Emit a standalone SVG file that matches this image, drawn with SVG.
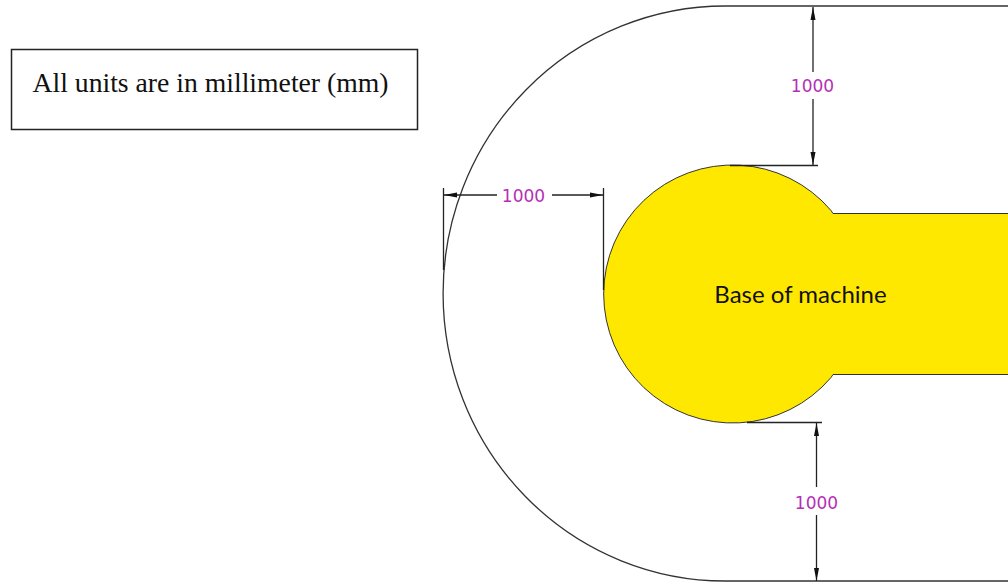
<svg xmlns="http://www.w3.org/2000/svg" width="1008" height="582" viewBox="0 0 1008 582">
<style>
.dim{stroke:#222;stroke-width:1.3;fill:none}
.lbl{font-family:"DejaVu Sans",sans-serif;font-size:17px;fill:#b52fb5;text-anchor:middle}
</style>
<defs>
<marker id="arr" viewBox="0 0 13 8" markerWidth="13" markerHeight="8" refX="13" refY="4" orient="auto" markerUnits="userSpaceOnUse"><path d="M0 1.500 L13 4 L0 6.500 Z" fill="#111"/></marker>
</defs>
<rect width="1008" height="582" fill="#fff"/>
<g id="note">
<rect x="11.500" y="49.500" width="406" height="80" fill="#fff" stroke="#222" stroke-width="1.500"/>
<text x="32.500" y="92" font-family="'Liberation Serif',serif" font-size="27.700px" fill="#111">All units are in millimeter (mm)</text>
</g>
<g id="boundary">
<path d="M1008 6 H725 A282 287.500 0 0 0 725 581 H1008" fill="none" stroke="#333" stroke-width="1.300"/>
</g>
<g id="base">
<path d="M1008 213.500 H833 L831 210.500 A129 129 0 1 0 831 377.500 L833 374.500 H1008 Z" fill="#ffe800"/>
<path d="M1008 213.500 H833 L831 210.500 A129 129 0 1 0 831 377.500 L833 374.500 H1008" fill="none" stroke="#333" stroke-width="1"/>
<text x="800.500" y="302.500" font-family="Lato,sans-serif" font-size="24px" fill="#111" text-anchor="middle">Base of machine</text>
</g>
<g id="connectors">
<path class="dim" d="M443.500 188 V270 M603.500 188 V290 M730 165.500 H818 M747 422.500 H822"/>
<path class="dim" marker-end="url(#arr)" d="M497 195 H444"/>
<path class="dim" marker-end="url(#arr)" d="M552 195 H603"/>
<path class="dim" marker-end="url(#arr)" d="M813 72 V7"/>
<path class="dim" marker-end="url(#arr)" d="M813 99 V165"/>
<path class="dim" marker-end="url(#arr)" d="M816.500 487 V423"/>
<path class="dim" marker-end="url(#arr)" d="M816.500 515 V581"/>
</g>
<g id="dimension-labels">
<text class="lbl" x="523.500" y="201.500">1000</text>
<text class="lbl" x="812.500" y="92">1000</text>
<text class="lbl" x="816.500" y="508.500">1000</text>
</g>
</svg>
